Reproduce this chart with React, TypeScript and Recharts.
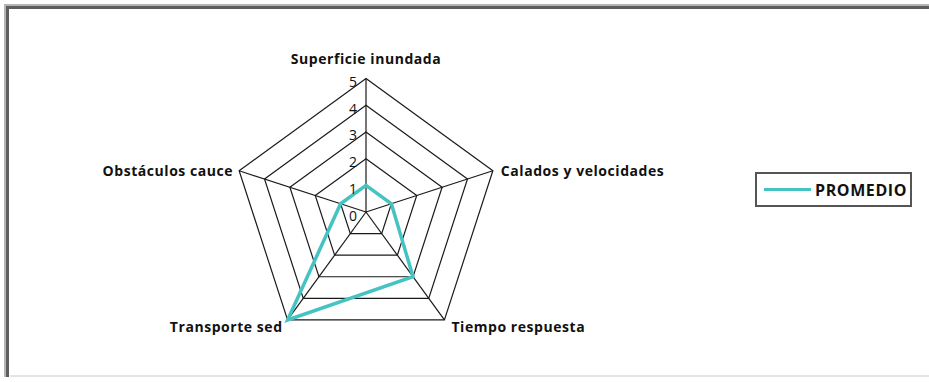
import React from "react";
import { RadarChart, Radar, PolarGrid, PolarAngleAxis, PolarRadiusAxis } from "recharts";

const categories = ["Superficie inundada", "Calados y velocidades", "Tiempo respuesta", "Transporte sed", "Obstáculos cauce"];
const promedio = [1, 1, 3, 5, 1];
const radiusTicks = [0, 1, 2, 3, 4, 5];
const seriesName = "PROMEDIO";

const data = categories.map((c, i) => ({ name: c, value: promedio[i] }));

const FONT = "'Open Sans', Lato, sans-serif";
const TEAL = "#45C3C3";
const CX = 366;
const CY = 212;
const R = 133.4;

// label anchoring per index (style only)
const tickAdj = [
  { anchor: "middle", dx: 0, dy: -20 },
  { anchor: "start", dx: 8, dy: 0 },
  { anchor: "start", dx: 7, dy: 7 },
  { anchor: "end", dx: -5, dy: 7 },
  { anchor: "end", dx: -6, dy: 0 },
];

const AngleTick = (props: any) => {
  const { payload, index } = props;
  const adj = tickAdj[index] || { anchor: "middle", dx: 0, dy: 0 };
  const angle = 90 - index * 72;
  const rad = (angle * Math.PI) / 180;
  const vx = CX + R * Math.cos(rad);
  const vy = CY - R * Math.sin(rad);
  return (
    <text
      x={vx + adj.dx}
      y={vy + adj.dy}
      textAnchor={adj.anchor}
      dominantBaseline="central"
      fontFamily={FONT}
      fontWeight={700}
      fontSize={14}
      fill="#111"
      letterSpacing={0.55}
    >
      {payload.value}
    </text>
  );
};

const RadiusTick = (props: any) => {
  const { x, y, payload } = props;
  return (
    <text
      x={x - 13}
      y={y + 3}
      textAnchor="middle"
      dominantBaseline="central"
      fontFamily={FONT}
      fontSize={14}
      fill="#111"
    >
      {payload.value}
    </text>
  );
};

export default function App() {
  return (
    <div style={{ position: "fixed", left: 0, top: 0, width: 929, height: 382, background: "#fff", overflow: "hidden" }}>
      <div style={{ position: "absolute", left: 0, top: 0 }}>
        <RadarChart width={929} height={382} cx={CX} cy={CY} outerRadius={R} data={data} margin={{ top: 0, right: 0, bottom: 0, left: 0 }}>
          <PolarGrid gridType="polygon" stroke="#1a1a1a" strokeWidth={1.2} strokeOpacity={1} />
          <PolarAngleAxis dataKey="name" tick={(p: any) => <AngleTick {...p} />} tickLine={false} axisLine={false} />
          <PolarRadiusAxis
            angle={90}
            domain={[0, 5]}
            ticks={radiusTicks as any}
            tickCount={6}
            axisLine={false}
            tickLine={false}
            tick={(p: any) => <RadiusTick {...p} />}
          />
          <Radar
            name={seriesName}
            dataKey="value"
            stroke={TEAL}
            strokeWidth={3.5}
            fill="none"
            fillOpacity={0}
            dot={false}
            isAnimationActive={false}
          />
        </RadarChart>
      </div>
      <div
        style={{
          position: "absolute",
          left: 4,
          top: 4,
          width: 940,
          height: 373,
          borderTop: "2px solid #b5b5b5",
          borderLeft: "2px solid #b5b5b5",
          boxSizing: "border-box",
          pointerEvents: "none",
          zIndex: 2,
        }}
      >
        <div
          style={{
            width: "100%",
            height: "100%",
            borderTop: "3px solid #5e5e5e",
            borderLeft: "3px solid #5e5e5e",
            boxSizing: "border-box",
          }}
        />
      </div>
      <div
        style={{
          position: "absolute",
          left: 10,
          top: 375,
          width: 919,
          height: 2,
          background: "#e4e4e4",
          zIndex: 2,
        }}
      />
      <div
        style={{
          position: "absolute",
          left: 755,
          top: 172,
          width: 157,
          height: 35,
          border: "2px solid #555",
          boxSizing: "border-box",
          display: "flex",
          alignItems: "center",
          fontFamily: FONT,
          fontWeight: 700,
          fontSize: 16,
          letterSpacing: 0.6,
          color: "#111",
          zIndex: 2,
        }}
      >
        <div style={{ width: 47, height: 3.5, background: TEAL, marginLeft: 7, marginRight: 4, flexShrink: 0 }} />
        <span>{seriesName}</span>
      </div>
    </div>
  );
}
